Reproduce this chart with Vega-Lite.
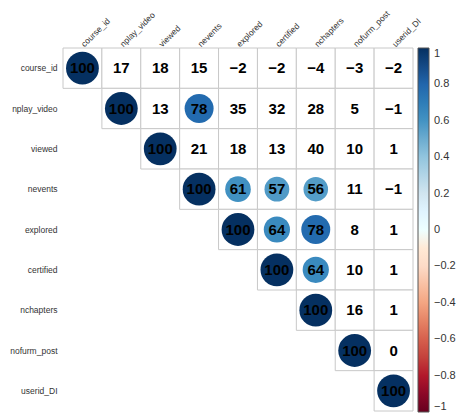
{
  "$schema": "https://vega.github.io/schema/vega-lite/v6.json",
  "width": 350,
  "height": 363,
  "autosize": {"type": "none"},
  "padding": {"left": 63, "top": 48, "right": 43, "bottom": 7},
  "background": "white",
  "config": {
    "view": {"stroke": null},
    "font": "Liberation Sans"
  },
  "data": {
    "values": [
      {"row": "course_id", "col": "course_id", "v": 100},
      {"row": "course_id", "col": "nplay_video", "v": 17},
      {"row": "course_id", "col": "viewed", "v": 18},
      {"row": "course_id", "col": "nevents", "v": 15},
      {"row": "course_id", "col": "explored", "v": -2},
      {"row": "course_id", "col": "certified", "v": -2},
      {"row": "course_id", "col": "nchapters", "v": -4},
      {"row": "course_id", "col": "nofurm_post", "v": -3},
      {"row": "course_id", "col": "userid_DI", "v": -2},
      {"row": "nplay_video", "col": "nplay_video", "v": 100},
      {"row": "nplay_video", "col": "viewed", "v": 13},
      {"row": "nplay_video", "col": "nevents", "v": 78},
      {"row": "nplay_video", "col": "explored", "v": 35},
      {"row": "nplay_video", "col": "certified", "v": 32},
      {"row": "nplay_video", "col": "nchapters", "v": 28},
      {"row": "nplay_video", "col": "nofurm_post", "v": 5},
      {"row": "nplay_video", "col": "userid_DI", "v": -1},
      {"row": "viewed", "col": "viewed", "v": 100},
      {"row": "viewed", "col": "nevents", "v": 21},
      {"row": "viewed", "col": "explored", "v": 18},
      {"row": "viewed", "col": "certified", "v": 13},
      {"row": "viewed", "col": "nchapters", "v": 40},
      {"row": "viewed", "col": "nofurm_post", "v": 10},
      {"row": "viewed", "col": "userid_DI", "v": 1},
      {"row": "nevents", "col": "nevents", "v": 100},
      {"row": "nevents", "col": "explored", "v": 61},
      {"row": "nevents", "col": "certified", "v": 57},
      {"row": "nevents", "col": "nchapters", "v": 56},
      {"row": "nevents", "col": "nofurm_post", "v": 11},
      {"row": "nevents", "col": "userid_DI", "v": -1},
      {"row": "explored", "col": "explored", "v": 100},
      {"row": "explored", "col": "certified", "v": 64},
      {"row": "explored", "col": "nchapters", "v": 78},
      {"row": "explored", "col": "nofurm_post", "v": 8},
      {"row": "explored", "col": "userid_DI", "v": 1},
      {"row": "certified", "col": "certified", "v": 100},
      {"row": "certified", "col": "nchapters", "v": 64},
      {"row": "certified", "col": "nofurm_post", "v": 10},
      {"row": "certified", "col": "userid_DI", "v": 1},
      {"row": "nchapters", "col": "nchapters", "v": 100},
      {"row": "nchapters", "col": "nofurm_post", "v": 16},
      {"row": "nchapters", "col": "userid_DI", "v": 1},
      {"row": "nofurm_post", "col": "nofurm_post", "v": 100},
      {"row": "nofurm_post", "col": "userid_DI", "v": 0},
      {"row": "userid_DI", "col": "userid_DI", "v": 100}
    ]
  },
  "encoding": {
    "x": {
      "field": "col", "type": "nominal",
      "sort": ["course_id", "nplay_video", "viewed", "nevents", "explored", "certified", "nchapters", "nofurm_post", "userid_DI"],
      "scale": {"paddingInner": 0, "paddingOuter": 0},
      "axis": {"orient": "top", "title": null, "ticks": false, "domain": false, "labelAngle": -45, "labelAlign": "left", "labelBaseline": "middle", "labelPadding": 3, "labelFontSize": 8.5, "labelColor": "#333333", "labelFont": "Liberation Sans"}
    },
    "y": {
      "field": "row", "type": "nominal",
      "sort": ["course_id", "nplay_video", "viewed", "nevents", "explored", "certified", "nchapters", "nofurm_post", "userid_DI"],
      "scale": {"paddingInner": 0, "paddingOuter": 0},
      "axis": {"title": null, "ticks": false, "domain": false, "labelPadding": 6, "labelFontSize": 8.5, "labelColor": "#333333", "labelFont": "Liberation Sans"}
    }
  },
  "layer": [
    {
      "mark": {"type": "rect", "fill": "white", "stroke": "#c8c8c8", "strokeWidth": 1}
    },
    {
      "transform": [{"filter": "abs(datum.v) >= 50"}],
      "mark": {"type": "circle", "opacity": 1},
      "encoding": {
        "size": {"field": "v", "type": "quantitative", "scale": {"type": "linear", "domain": [0, 100], "range": [0, 1075]}, "legend": null},
        "color": {
          "field": "v", "type": "quantitative",
          "scale": {
            "type": "linear",
            "domain": [-100, -80, -60, -40, -20, 0, 20, 40, 60, 80, 100],
            "range": ["#67001F", "#B2182B", "#D6604D", "#F4A582", "#FDDBC7", "#FFFFFF", "#D1E5F0", "#92C5DE", "#4393C3", "#2166AC", "#053061"]
          },
          "legend": {
            "title": null, "orient": "none", "legendX": 355, "legendY": 0, "direction": "vertical",
            "gradientLength": 364, "gradientThickness": 11,
            "gradientStrokeColor": "#555555", "gradientStrokeWidth": 1,
            "values": [-100, -80, -60, -40, -20, 0, 20, 40, 60, 80, 100],
            "labelExpr": "format(datum.value / 100, '')",
            "labelOverlap": false, "labelFontSize": 11, "labelColor": "#333333", "labelOffset": 5, "padding": 0
          }
        }
      }
    },
    {
      "mark": {"type": "text", "fontSize": 15, "fontWeight": "bold", "color": "black", "font": "Liberation Sans"},
      "encoding": {
        "text": {"field": "v", "type": "quantitative", "format": "d"}
      }
    }
  ]
}
